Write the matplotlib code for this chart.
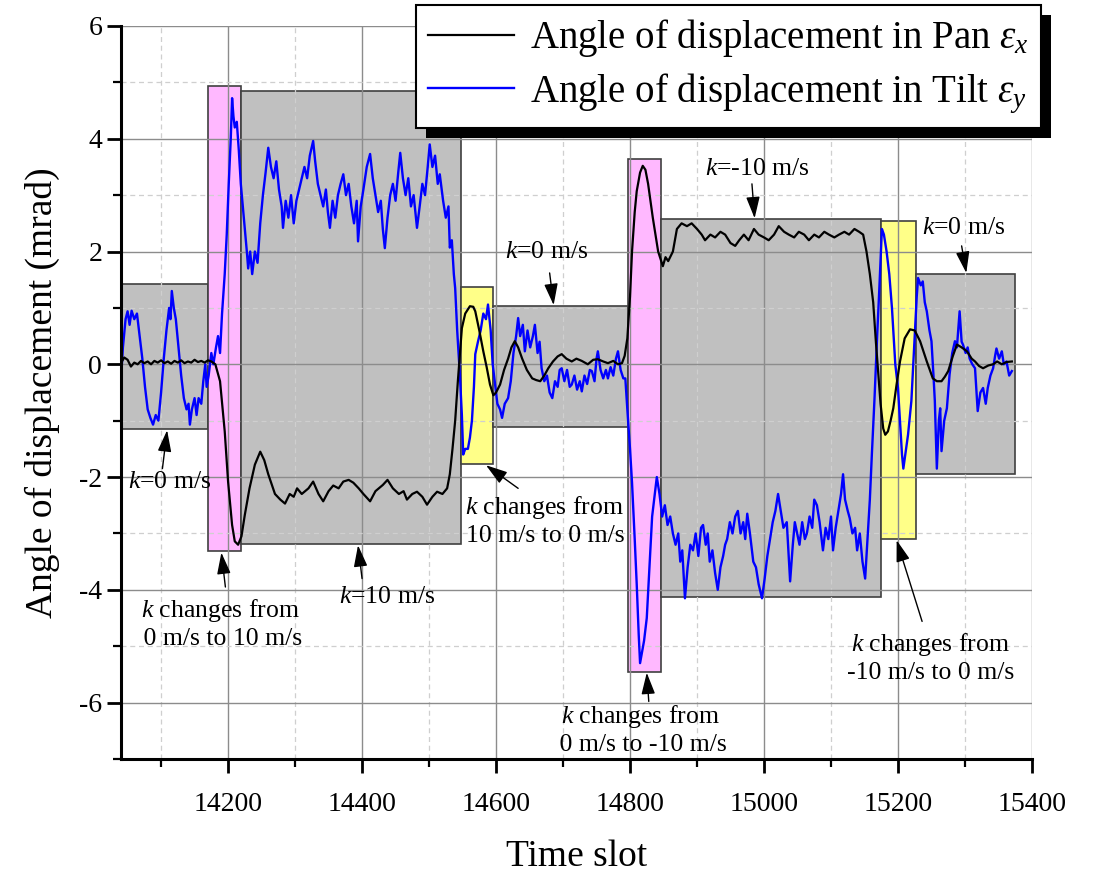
import numpy as np
import matplotlib.pyplot as plt
from matplotlib.patches import Rectangle
from matplotlib.ticker import MultipleLocator
from matplotlib.transforms import IdentityTransform

plt.rcParams['font.family'] = ['Liberation Serif', 'DejaVu Serif']
plt.rcParams['mathtext.fontset'] = 'custom'
plt.rcParams['mathtext.rm'] = 'Liberation Serif'
plt.rcParams['mathtext.it'] = 'Liberation Serif:italic'
plt.rcParams['axes.unicode_minus'] = False

# Pan angle (black)
pan_t = [14040, 14045, 14050, 14055, 14060, 14065, 14070, 14075, 14080, 14085, 14090, 14095, 14100, 14105, 14110,
         14115, 14120, 14125, 14130, 14135, 14140, 14145, 14150, 14155, 14160, 14165, 14170, 14175, 14181, 14188,
         14195, 14200, 14206, 14210, 14215, 14220, 14225, 14232, 14240, 14248, 14254, 14260, 14270, 14278, 14285,
         14292, 14298, 14303, 14310, 14320, 14327, 14335, 14342, 14350, 14357, 14365, 14372, 14380, 14387, 14395,
         14402, 14412, 14420, 14431, 14438, 14446, 14455, 14462, 14467, 14475, 14482, 14490, 14497, 14505, 14512,
         14520, 14527, 14531, 14535, 14539, 14543, 14546, 14549, 14554, 14561, 14566, 14569, 14575, 14581, 14586,
         14591, 14596, 14600, 14606, 14612, 14618, 14623, 14628, 14633, 14639, 14646, 14654, 14660, 14666, 14672,
         14678, 14685, 14692, 14698, 14705, 14713, 14720, 14728, 14737, 14745, 14752, 14760, 14767, 14775, 14782,
         14788, 14792, 14796, 14800, 14803, 14807, 14810, 14815, 14819, 14823, 14827, 14834, 14842, 14849, 14853,
         14857, 14864, 14870, 14877, 14885, 14892, 14900, 14907, 14912, 14920, 14927, 14935, 14942, 14950, 14957,
         14963, 14970, 14977, 14985, 14992, 15000, 15007, 15015, 15022, 15030, 15037, 15045, 15052, 15060, 15067,
         15075, 15082, 15090, 15097, 15105, 15112, 15120, 15127, 15135, 15142, 15148, 15153, 15158, 15163, 15167,
         15170, 15174, 15178, 15181, 15185, 15189, 15193, 15198, 15203, 15210, 15218, 15225, 15233, 15243, 15252,
         15258, 15265, 15270, 15275, 15282, 15288, 15295, 15303, 15310, 15315, 15321, 15327, 15335, 15342, 15348,
         15355, 15362, 15370]
pan_v = [0.02, 0.12, 0.08, -0.04, 0.03, 0.0, 0.06, 0.02, 0.05, 0.0, 0.06, 0.03, 0.07, 0.02, 0.05,
         0.01, 0.06, 0.03, 0.07, 0.02, 0.05, 0.03, 0.08, 0.04, 0.06, 0.03, 0.07, 0.05, 0.0, -0.3,
         -1.19, -2.08, -2.85, -3.14, -3.2, -3.05, -2.67, -2.2, -1.78, -1.55, -1.7, -1.95, -2.3, -2.4, -2.47,
         -2.3, -2.35, -2.2, -2.3, -2.2, -2.08, -2.3, -2.43, -2.25, -2.15, -2.2, -2.08, -2.05, -2.1, -2.2,
         -2.3, -2.43, -2.25, -2.14, -2.05, -2.2, -2.3, -2.25, -2.4, -2.3, -2.26, -2.35, -2.49, -2.35, -2.26,
         -2.3, -2.2, -1.95, -1.5, -1.0, -0.3, 0.18, 0.64, 0.9, 1.03, 1.02, 0.94, 0.6, 0.23, -0.05,
         -0.36, -0.55, -0.5, -0.36, -0.1, 0.1, 0.3, 0.41, 0.3, 0.1, -0.1, -0.25, -0.28, -0.3, -0.2,
         -0.07, 0.05, 0.14, 0.18, 0.1, 0.05, 0.1, 0.06, 0.0, 0.08, 0.09, 0.05, 0.02, 0.06, 0.0,
         0.02, 0.15, 0.46, 1.2, 2.0, 2.7, 3.07, 3.4, 3.52, 3.45, 3.2, 2.6, 2.0, 1.74, 1.9,
         1.83, 2.0, 2.4, 2.5, 2.45, 2.5, 2.4, 2.3, 2.2, 2.3, 2.25, 2.35, 2.3, 2.15, 2.1,
         2.2, 2.3, 2.2, 2.4, 2.3, 2.25, 2.2, 2.3, 2.45, 2.35, 2.3, 2.25, 2.35, 2.3, 2.2,
         2.3, 2.25, 2.35, 2.3, 2.25, 2.3, 2.35, 2.3, 2.4, 2.35, 2.3, 2.0, 1.6, 1.1, 0.4,
         -0.07, -0.7, -1.14, -1.25, -1.19, -1.0, -0.78, -0.35, 0.05, 0.46, 0.62, 0.6, 0.41, 0.05, -0.25,
         -0.3, -0.3, -0.22, -0.12, 0.15, 0.35, 0.3, 0.23, 0.1, 0.05, -0.03, -0.07, -0.02, 0.0, 0.05,
         0.0, 0.04, 0.05]

# Tilt angle (blue)
tilt_t = [14040, 14043, 14047, 14050, 14053, 14056, 14060, 14064, 14068, 14072, 14076, 14080, 14084, 14088, 14092,
          14096, 14100, 14104, 14108, 14112, 14114, 14116, 14119, 14122, 14126, 14130, 14134, 14138, 14141, 14143,
          14146, 14150, 14153, 14156, 14160, 14163, 14166, 14168, 14171, 14175, 14178, 14182, 14185, 14188, 14191,
          14195, 14198, 14201, 14204, 14206, 14208, 14210, 14213, 14216, 14219, 14222, 14225, 14228, 14230, 14233,
          14236, 14240, 14244, 14248, 14252, 14256, 14260, 14264, 14268, 14272, 14276, 14280, 14282, 14286, 14290,
          14294, 14298, 14302, 14306, 14310, 14314, 14318, 14322, 14327, 14330, 14334, 14338, 14342, 14346, 14349,
          14352, 14356, 14360, 14364, 14368, 14372, 14376, 14380, 14384, 14388, 14392, 14394, 14398, 14402, 14407,
          14412, 14416, 14420, 14424, 14428, 14431, 14434, 14438, 14442, 14446, 14450, 14454, 14457, 14461, 14465,
          14469, 14473, 14477, 14482, 14486, 14490, 14494, 14498, 14501, 14505, 14509, 14513, 14516, 14521, 14525,
          14529, 14531, 14534, 14537, 14539, 14542, 14546, 14549, 14551, 14554, 14558, 14561, 14564, 14567, 14569,
          14573, 14577, 14581, 14585, 14588, 14592, 14595, 14598, 14602, 14606, 14609, 14613, 14618, 14622, 14626,
          14630, 14633, 14636, 14640, 14643, 14647, 14651, 14655, 14658, 14662, 14665, 14668, 14672, 14676, 14680,
          14684, 14688, 14692, 14695, 14698, 14702, 14706, 14710, 14713, 14717, 14721, 14725, 14728, 14732, 14736,
          14740, 14743, 14747, 14750, 14752, 14756, 14760, 14764, 14767, 14771, 14775, 14779, 14782, 14786, 14790,
          14793, 14796, 14800, 14803, 14807, 14810, 14813, 14815, 14818, 14821, 14825, 14829, 14833, 14837, 14840,
          14844, 14848, 14852, 14856, 14860, 14864, 14868, 14872, 14875, 14878, 14882, 14886, 14890, 14894, 14898,
          14902, 14906, 14909, 14913, 14916, 14919, 14923, 14927, 14931, 14935, 14939, 14942, 14945, 14949, 14953,
          14957, 14961, 14965, 14969, 14972, 14975, 14979, 14984, 14988, 14992, 14997, 15001, 15005, 15009, 15013,
          15017, 15021, 15025, 15029, 15034, 15039, 15043, 15046, 15049, 15053, 15057, 15061, 15064, 15068, 15072,
          15075, 15079, 15083, 15088, 15092, 15096, 15100, 15103, 15107, 15111, 15115, 15118, 15121, 15125, 15128,
          15132, 15136, 15139, 15143, 15147, 15151, 15155, 15158, 15161, 15165, 15169, 15172, 15176, 15179, 15183,
          15187, 15191, 15196, 15200, 15203, 15206, 15208, 15212, 15215, 15220, 15225, 15228, 15230, 15234, 15237,
          15240, 15243, 15247, 15250, 15253, 15255, 15258, 15261, 15263, 15265, 15269, 15273, 15277, 15281, 15285,
          15288, 15292, 15295, 15297, 15301, 15304, 15307, 15311, 15315, 15319, 15323, 15327, 15331, 15334, 15338,
          15342, 15345, 15347, 15351, 15355, 15358, 15362, 15366, 15370]
tilt_v = [-0.3, 0.3, 0.8, 0.94, 0.7, 0.95, 0.8, 0.9, 0.5, 0.1, -0.4, -0.8, -0.95, -1.07, -0.9,
          -1.0, -0.5, 0.1, 0.6, 1.0, 0.8, 1.3, 1.0, 0.8, 0.3, -0.2, -0.6, -0.8, -0.7, -1.07,
          -0.8, -0.6, -0.9, -0.6, -0.7, -0.3, 0.0, -0.4, -0.2, 0.2, 0.0, 0.3, 0.5, 0.2, 0.9,
          1.6, 2.3, 3.2, 4.0, 4.72, 4.4, 4.2, 4.3, 3.8, 3.2, 2.8, 2.4, 2.0, 1.7, 2.0,
          1.6, 2.0, 1.8, 2.5, 3.0, 3.4, 3.84, 3.5, 3.3, 3.6, 3.1, 2.8, 2.42, 2.9, 2.6,
          3.0, 2.5, 2.9, 3.1, 3.3, 3.5, 3.3, 3.7, 3.96, 3.6, 3.2, 3.0, 2.8, 3.1, 2.7,
          2.42, 2.9, 2.6, 3.0, 3.2, 3.37, 3.0, 3.2, 2.8, 2.5, 2.9, 2.18, 2.8, 3.1, 3.5,
          3.73, 3.3, 3.0, 2.7, 2.9, 2.4, 2.06, 2.6, 3.0, 3.2, 2.9, 3.4, 3.75, 3.3, 3.0,
          3.3, 2.8, 3.0, 2.42, 2.8, 3.2, 3.0, 3.5, 3.9, 3.5, 3.7, 3.2, 3.37, 2.9, 2.6,
          2.8, 2.07, 2.2, 1.6, 1.35, 0.6, -0.18, -0.9, -1.6, -1.5, -1.5, -1.3, -1.0, -0.4, 0.18,
          0.4, 0.6, 0.9, 0.8, 1.06, 0.6, 0.0, -0.3, -0.7, -0.8, -0.95, -0.7, -0.6, -0.3, 0.2,
          0.5, 0.82, 0.5, 0.7, 0.23, 0.6, 0.3, 0.5, 0.7, 0.2, 0.4, -0.07, -0.3, -0.2, -0.5,
          -0.6, -0.3, -0.4, -0.1, -0.07, -0.3, -0.1, -0.4, -0.36, -0.2, -0.45, -0.3, -0.48, -0.2, -0.35,
          -0.1, -0.12, -0.3, 0.1, 0.23, -0.1, -0.25, -0.1, -0.25, -0.05, -0.2, 0.1, 0.23, -0.1, -0.25,
          -0.25, -0.8, -1.5, -2.1, -3.1, -3.9, -4.8, -5.3, -5.1, -4.9, -4.5, -3.6, -2.7, -2.3, -2.0,
          -2.3, -2.7, -2.5, -2.85, -2.7, -3.0, -3.2, -3.0, -3.5, -3.3, -4.15, -3.6, -3.2, -3.3, -3.0,
          -3.4, -2.9, -2.85, -3.2, -3.0, -3.5, -3.3, -3.7, -4.0, -3.6, -3.4, -3.2, -3.1, -2.8, -3.0,
          -2.7, -2.6, -3.0, -2.8, -3.1, -2.65, -3.0, -3.5, -3.6, -3.9, -4.15, -3.8, -3.4, -3.1, -2.8,
          -2.6, -2.3, -2.6, -2.9, -2.8, -3.85, -3.2, -2.8, -2.97, -3.2, -2.8, -3.1, -3.0, -2.7, -2.9,
          -2.4, -2.5, -2.8, -3.3, -2.9, -3.1, -2.7, -3.3, -2.9, -2.6, -2.3, -1.95, -2.4, -2.6, -2.73,
          -3.0, -2.9, -3.3, -3.0, -3.5, -3.8, -3.0, -2.4, -1.6, -0.6, 0.53, 1.3, 2.4, 2.3, 2.0,
          1.6, 1.0, 0.0, -0.42, -1.0, -1.6, -1.85, -1.5, -1.25, -0.65, 0.53, 1.2, 1.53, 1.4, 1.47,
          1.1, 0.94, 0.6, 0.41, -0.2, -0.65, -1.85, -1.0, -0.78, -1.54, -1.0, -0.78, -0.18, 0.2, 0.41,
          0.3, 0.94, 0.4, 0.35, 0.2, 0.3, 0.1, 0.0, -0.07, -0.83, -0.5, -0.42, -0.7, -0.42, -0.2,
          -0.07, 0.15, 0.28, 0.1, 0.23, 0.0, 0.05, -0.2, -0.12]

# shaded phases: (start, end, bottom, top, colour)
box_start = [14040, 14170, 14220, 14548, 14595, 14797, 14846, 15175, 15227]
box_end = [14170, 14220, 14548, 14595, 14797, 14846, 15175, 15227, 15375]
box_low = [-1.15, -3.32, -3.19, -1.77, -1.11, -5.45, -4.12, -3.10, -1.95]
box_high = [1.42, 4.93, 4.84, 1.37, 1.03, 3.64, 2.57, 2.54, 1.60]
box_color = ['#C0C0C0', '#FFB8FF', '#C0C0C0', '#FFFF88', '#C0C0C0',
             '#FFB8FF', '#C0C0C0', '#FFFF88', '#C0C0C0']

# annotations: text, text position, arrow tail, arrow tip
notes = [
    ('$k$=0 m/s', (14113, -2.08), (14102, -1.85), (14109, -1.17)),
    ('$k$ changes from\n 0 m/s to 10 m/s', (14188, -4.6), (14196, -3.95), (14190, -3.34)),
    ('$k$=10 m/s', (14437, -4.12), (14400, -3.8), (14394, -3.21)),
    ('$k$=0 m/s', (14676, 1.99), (14680, 1.62), (14686, 1.05)),
    ('$k$ changes from\n10 m/s to 0 m/s', (14673, -2.77), (14633, -2.2), (14585, -1.79)),
    ('$k$=-10 m/s', (14990, 3.46), (14982, 3.2), (14986, 2.59)),
    ('$k$=0 m/s', (15298, 2.42), (15295, 2.1), (15302, 1.62)),
    ('$k$ changes from\n-10 m/s to 0 m/s', (15248, -5.2), (15236, -4.56), (15198, -3.12)),
    ('$k$ changes from\n 0 m/s to -10 m/s', (14815, -6.48), (14828, -5.98), (14825, -5.47)),
]

fig = plt.figure(figsize=(10.99, 8.72), dpi=100)
ax = fig.add_axes([0.110, 0.1296, 0.829, 0.8406])

for s, e, lo, hi, c in zip(box_start, box_end, box_low, box_high, box_color):
    ax.add_patch(Rectangle((s, lo), e - s, hi - lo, facecolor=c, edgecolor='#404040',
                           linewidth=1.2, zorder=0.3))

ax.plot(pan_t, pan_v, color='black', lw=1.6, label=r'Angle of displacement in Pan $\varepsilon_x$', zorder=3)
ax.plot(tilt_t, tilt_v, color='#0000FF', lw=1.7, label=r'Angle of displacement in Tilt $\varepsilon_y$', zorder=2.5)

for txt, pos, tail, tip in notes:
    ax.text(pos[0], pos[1], txt, fontsize=18.5, ha='center', va='center', zorder=6)
    ax.annotate('', xy=tip, xytext=tail, zorder=6,
                arrowprops=dict(arrowstyle='-|>,head_length=1.1,head_width=0.35',
                                color='black', lw=1, mutation_scale=12, shrinkA=0, shrinkB=0))

ax.set_xlim(14040, 15400)
ax.set_ylim(-7, 6)
ax.xaxis.set_major_locator(MultipleLocator(200))
ax.xaxis.set_minor_locator(MultipleLocator(100))
ax.yaxis.set_major_locator(MultipleLocator(2))
ax.yaxis.set_minor_locator(MultipleLocator(1))
ax.set_axisbelow(True)
ax.grid(which='major', color='#8C8C8C', lw=1.0, ls='-')
ax.grid(which='minor', color='#CFCFCF', lw=0.9, ls=(0, (4, 3)))

for sp in ['top', 'right']:
    ax.spines[sp].set_visible(False)
for sp in ['left', 'bottom']:
    ax.spines[sp].set_linewidth(2.2)
ax.tick_params(which='major', direction='out', length=10, width=2, labelsize=20)
ax.tick_params(which='minor', direction='out', length=6, width=1.6)
ax.tick_params(axis='x', which='major', pad=14)

ax.set_xlabel('Time slot', fontsize=27, labelpad=16)
ax.set_ylabel('Angle of displacement (mrad)', fontsize=27, labelpad=14)

leg = ax.legend(loc='upper left', bbox_to_anchor=(416 / 1099, 1 - 5 / 872), bbox_transform=fig.transFigure,
                borderaxespad=0, fontsize=28, fancybox=False, framealpha=1, edgecolor='black',
                handlelength=2.2, handletextpad=0.4, labelspacing=0.3, borderpad=0.32)
leg.get_frame().set_linewidth(1.5)
leg.set_zorder(7)

fig.canvas.draw()
bb = leg.get_window_extent()
ax.add_patch(Rectangle((bb.x0 + 10, bb.y0 - 10), bb.width, bb.height, transform=IdentityTransform(),
                       facecolor='black', edgecolor='none', zorder=6.9, clip_on=False))

fig.savefig('out.png', dpi=100)
